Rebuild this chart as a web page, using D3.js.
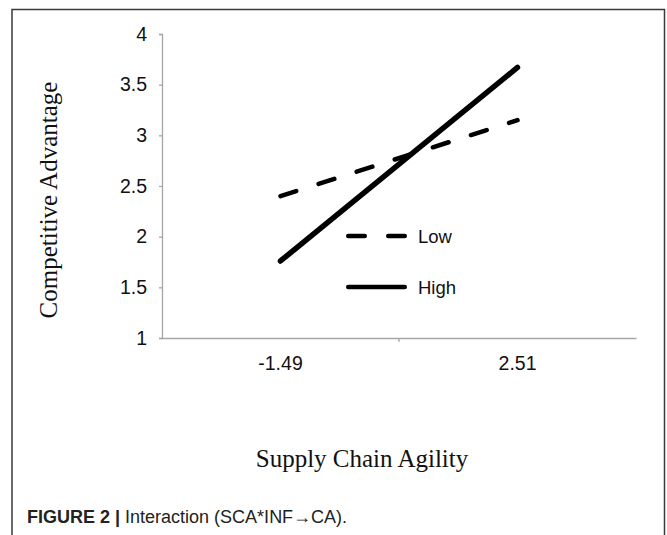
<!DOCTYPE html>
<html>
<head>
<meta charset="utf-8">
<script src="https://cdn.jsdelivr.net/npm/d3@7"></script>
<style>
  html, body { margin: 0; padding: 0; background: #fff; }
  svg { display: block; }
</style>
</head>
<body>
<svg id="chart" width="667" height="535"></svg>
<script>
// ---- data ----
const categories = ["-1.49", "2.51"];
const lowValues = [2.40, 3.15];
const highValues = [1.76, 3.67];
const seriesNames = ["Low", "High"];
const yTicks = [1, 1.5, 2, 2.5, 3, 3.5, 4];
const yTitle = "Competitive Advantage";
const xTitle = "Supply Chain Agility";
const captionBold = "FIGURE 2 |";
const captionText = " Interaction (SCA*INF\u2192CA).";

const svg = d3.select("#chart");

// outer frame
svg.append("path")
  .attr("d", "M12,540 L12,9.5 L664.5,9.5 L664.5,540")
  .attr("fill", "none").attr("stroke", "#3a3a3a").attr("stroke-width", 1.5);

const x = d3.scaleBand().domain(categories).range([162, 636]).paddingInner(0).paddingOuter(0);
const y = d3.scaleLinear().domain([1, 4]).range([338, 34]);
const cx = c => x(c) + x.bandwidth() / 2;

const sans = "'Liberation Sans', Arial, sans-serif";
const serif = "'Liberation Serif', 'Times New Roman', serif";
const dash = "16.5,23.5";

// y axis
const yAxis = svg.append("g").attr("transform", "translate(162,0)")
  .call(d3.axisLeft(y).tickValues(yTicks).tickSize(3).tickPadding(12)
    .tickFormat(d => String(d)));
yAxis.select(".domain").attr("stroke", "#a6a6a6").attr("stroke-width", 1.3);
yAxis.selectAll(".tick line").attr("stroke", "#a6a6a6").attr("stroke-width", 1.3);
yAxis.selectAll(".tick text").attr("font-family", sans)
  .attr("font-size", 19.5).attr("fill", "#111");

// x axis
const xAxis = svg.append("g").attr("transform", "translate(0,338)")
  .call(d3.axisBottom(x).tickSize(0).tickPadding(18));
xAxis.select(".domain").attr("stroke", "#a6a6a6").attr("stroke-width", 1.3);
xAxis.selectAll(".tick text").attr("font-family", sans)
  .attr("font-size", 19.5).attr("fill", "#111");
// boundary tick between categories
svg.append("g").selectAll("line").data(categories.slice(1)).join("line")
  .attr("x1", d => x(d)).attr("x2", d => x(d))
  .attr("y1", 338).attr("y2", 342)
  .attr("stroke", "#a6a6a6").attr("stroke-width", 1.3);

// lines
const line = d3.line().x((d, i) => cx(categories[i])).y(d => y(d));
svg.append("path").datum(lowValues).attr("d", line)
  .attr("fill", "none").attr("stroke", "#000").attr("stroke-width", 4.5)
  .attr("stroke-linecap", "round").attr("stroke-dasharray", dash);
svg.append("path").datum(highValues).attr("d", line)
  .attr("fill", "none").attr("stroke", "#000").attr("stroke-width", 5.5)
  .attr("stroke-linecap", "round");

// legend
const legend = svg.append("g");
const legendY = [236, 287];
seriesNames.forEach((name, i) => {
  legend.append("line")
    .attr("x1", 348.25).attr("x2", 404.75).attr("y1", legendY[i]).attr("y2", legendY[i])
    .attr("stroke", "#000").attr("stroke-width", 4.5).attr("stroke-linecap", "round")
    .attr("stroke-dasharray", i === 0 ? dash : null);
  legend.append("text")
    .attr("x", 418).attr("y", legendY[i] + 6.5)
    .attr("font-family", sans)
    .attr("font-size", 18.5).attr("fill", "#111").text(name);
});

// axis titles
svg.append("text")
  .attr("transform", "translate(57,200) rotate(-90)")
  .attr("text-anchor", "middle")
  .attr("font-family", serif)
  .attr("font-size", 25).attr("fill", "#111").text(yTitle);
svg.append("text")
  .attr("x", 362).attr("y", 467).attr("text-anchor", "middle")
  .attr("font-family", serif)
  .attr("font-size", 25).attr("fill", "#111").text(xTitle);

// caption
const cap = svg.append("text").attr("x", 27).attr("y", 523)
  .attr("font-family", "'Liberation Sans Narrow', 'Liberation Sans', Arial, sans-serif")
  .attr("font-size", 18).attr("fill", "#222");
cap.append("tspan").attr("font-weight", "bold").text(captionBold);
cap.append("tspan").text(captionText);
</script>
</body>
</html>
